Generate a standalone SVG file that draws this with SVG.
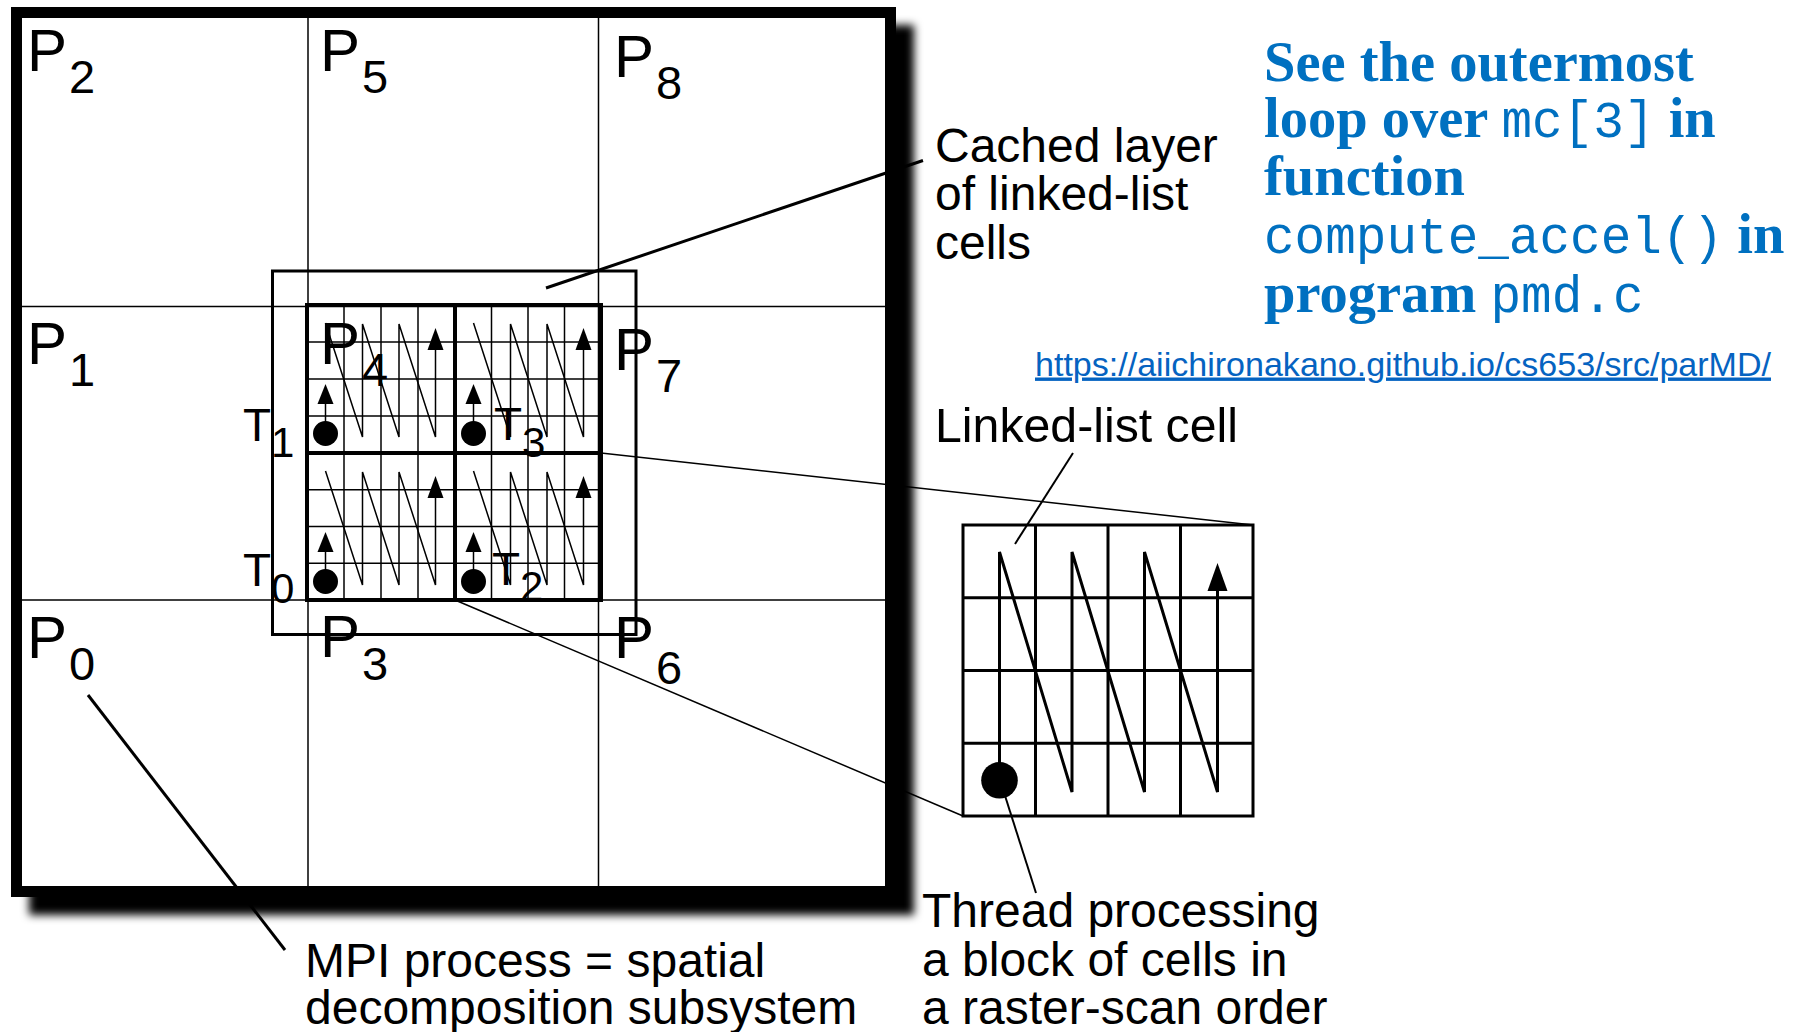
<svg xmlns="http://www.w3.org/2000/svg" xmlns:xlink="http://www.w3.org/1999/xlink" width="1803" height="1032" viewBox="0 0 1803 1032">
<defs>
<style>
.lbl{font-family:"Liberation Sans",Arial,Helvetica,sans-serif;font-size:48px;fill:#000}
.pl{font-family:"Liberation Sans",Arial,Helvetica,sans-serif;font-size:60px;fill:#000}
.sub{font-size:47px}
.tl{font-family:"Liberation Sans",Arial,Helvetica,sans-serif;font-size:46px;fill:#000}
.tsub{font-size:42px}
.blue{font-family:"Liberation Serif","Times New Roman",serif;font-weight:bold;font-size:56.5px;fill:#0070C0}
.mono{font-family:"Liberation Mono","Courier New",monospace;font-weight:normal;font-size:51px}
.url{font-family:"Liberation Sans",Arial,sans-serif;font-size:34px;fill:#0563C1;text-decoration:underline}
.thin{stroke:#000;stroke-width:1.5;fill:none}
.med{stroke:#000;stroke-width:3;fill:none}
.thick{stroke:#000;stroke-width:4;fill:none}
.lead{stroke:#000;stroke-width:3;fill:none}
.lead2{stroke:#000;stroke-width:2;fill:none}
</style>
<filter id="blur" x="-5%" y="-5%" width="110%" height="110%"><feGaussianBlur stdDeviation="4"/></filter>
<g id="tpat">
<circle cx="18.5" cy="128.5" r="12.5" fill="#000"/>
<line x1="18.5" y1="128.5" x2="18.5" y2="98" class="thin"/>
<polygon points="18.5,79 10.5,99 26.5,99" fill="#000"/>
<polyline points="18.5,18 55.5,132 55.5,19 92,132 92,19 128.5,132 128.5,44" class="thin"/>
<polygon points="128.5,23 120.5,45 136.5,45" fill="#000"/>
</g>
</defs>
<rect width="1803" height="1032" fill="#fff"/>

<g id="process-frame">
<rect x="29" y="25" width="885" height="890" fill="#000" filter="url(#blur)"/>
<rect x="16.5" y="12.5" width="874" height="879" fill="#fff" stroke="#000" stroke-width="11"/>
<line x1="308" y1="18" x2="308" y2="886" class="thin"/>
<line x1="598.5" y1="18" x2="598.5" y2="886" class="thin"/>
<line x1="22" y1="306.5" x2="885" y2="306.5" class="thin"/>
<line x1="22" y1="600" x2="885" y2="600" class="thin"/>
</g>

<g id="cached-layer">
<rect x="272.5" y="271" width="363.5" height="363.5" class="med"/>
</g>

<g id="cell-block">
<g class="thin">
<line x1="344" y1="305" x2="344" y2="600"/>
<line x1="381" y1="305" x2="381" y2="600"/>
<line x1="418" y1="305" x2="418" y2="600"/>
<line x1="491.5" y1="305" x2="491.5" y2="600"/>
<line x1="528" y1="305" x2="528" y2="600"/>
<line x1="564.5" y1="305" x2="564.5" y2="600"/>
<line x1="307" y1="342" x2="601" y2="342"/>
<line x1="307" y1="379" x2="601" y2="379"/>
<line x1="307" y1="416" x2="601" y2="416"/>
<line x1="307" y1="489.75" x2="601" y2="489.75"/>
<line x1="307" y1="526.5" x2="601" y2="526.5"/>
<line x1="307" y1="563.25" x2="601" y2="563.25"/>
</g>
<rect x="307" y="305" width="294" height="295" class="thick"/>
<line x1="455" y1="305" x2="455" y2="600" class="thick"/>
<line x1="307" y1="453" x2="601" y2="453" class="thick"/>
</g>

<g id="thread-T1"><use xlink:href="#tpat" href="#tpat" x="307" y="305"/></g>
<g id="thread-T3"><use xlink:href="#tpat" href="#tpat" x="455" y="305"/></g>
<g id="thread-T0"><use xlink:href="#tpat" href="#tpat" x="307" y="453"/></g>
<g id="thread-T2"><use xlink:href="#tpat" href="#tpat" x="455" y="453"/></g>

<g id="process-labels">
<text class="pl" x="27" y="71">P<tspan class="sub" dx="2" dy="22">2</tspan></text>
<text class="pl" x="320" y="71">P<tspan class="sub" dx="2" dy="22">5</tspan></text>
<text class="pl" x="614" y="77">P<tspan class="sub" dx="2" dy="22">8</tspan></text>
<text class="pl" x="27" y="364">P<tspan class="sub" dx="2" dy="22">1</tspan></text>
<text class="pl" x="320" y="364">P<tspan class="sub" dx="2" dy="22">4</tspan></text>
<text class="pl" x="614" y="370">P<tspan class="sub" dx="2" dy="22">7</tspan></text>
<text class="pl" x="27" y="658">P<tspan class="sub" dx="2" dy="22">0</tspan></text>
<text class="pl" x="320" y="657">P<tspan class="sub" dx="2" dy="23">3</tspan></text>
<text class="pl" x="614" y="658">P<tspan class="sub" dx="2" dy="26">6</tspan></text>
</g>

<g id="thread-labels">
<text class="tl" x="243" y="441">T<tspan class="tsub" dy="16">1</tspan></text>
<text class="tl" x="243" y="586">T<tspan class="tsub" dy="17">0</tspan></text>
<text class="tl" x="494" y="440">T<tspan class="tsub" dy="17">3</tspan></text>
<text class="tl" x="492" y="585">T<tspan class="tsub" dy="16">2</tspan></text>
</g>

<g id="cell-zoom">
<rect x="963" y="525" width="290" height="291" class="med"/>
<line x1="1035.5" y1="525" x2="1035.5" y2="816" class="med"/>
<line x1="1108" y1="525" x2="1108" y2="816" class="med"/>
<line x1="1180.5" y1="525" x2="1180.5" y2="816" class="med"/>
<line x1="963" y1="597.75" x2="1253" y2="597.75" class="med"/>
<line x1="963" y1="670.5" x2="1253" y2="670.5" class="med"/>
<line x1="963" y1="743.25" x2="1253" y2="743.25" class="med"/>
<polyline points="999.5,780 999.5,552 1072,792 1072,552 1144.5,792 1144.5,552 1217.5,792 1217.5,588" class="med"/>
<polygon points="1217.5,563 1207.5,591 1227.5,591" fill="#000"/>
<circle cx="999.5" cy="780.3" r="18.3" fill="#000"/>
</g>

<g id="connectors">
<line x1="546" y1="288" x2="923" y2="160.5" class="lead"/>
<line x1="88" y1="695" x2="285" y2="950" class="lead"/>
<line x1="1000" y1="780" x2="1036" y2="893" class="lead2"/>
<line x1="1073" y1="453" x2="1015" y2="544" class="lead2"/>
<line x1="601" y1="453" x2="1253" y2="525" class="thin"/>
<line x1="455" y1="600" x2="963" y2="816" class="thin"/>
</g>

<g id="label-cached">
<text class="lbl" x="935" y="162">Cached layer</text>
<text class="lbl" x="935" y="210">of linked-list</text>
<text class="lbl" x="935" y="258.5">cells</text>
</g>
<g id="label-cell">
<text class="lbl" x="935" y="442" textLength="303" lengthAdjust="spacingAndGlyphs">Linked-list cell</text>
</g>
<g id="label-mpi">
<text class="lbl" x="305" y="977">MPI process = spatial</text>
<text class="lbl" x="305" y="1024">decomposition subsystem</text>
</g>
<g id="label-thread">
<text class="lbl" x="922" y="927">Thread processing</text>
<text class="lbl" x="922" y="976">a block of cells in</text>
<text class="lbl" x="922" y="1024">a raster-scan order</text>
</g>

<g id="note">
<text class="blue" x="1264" y="81">See the outermost</text>
<text class="blue" x="1264" y="136.7">loop over <tspan class="mono">mc[3]</tspan> in</text>
<text class="blue" x="1264" y="195.2">function</text>
<text class="blue" x="1264" y="253.4"><tspan class="mono">compute_accel()</tspan> in</text>
<text class="blue" x="1264" y="311.6">program <tspan class="mono">pmd.c</tspan></text>
<text class="url" x="1035" y="375.5" textLength="736" lengthAdjust="spacingAndGlyphs">https://aiichironakano.github.io/cs653/src/parMD/</text>
</g>
</svg>
